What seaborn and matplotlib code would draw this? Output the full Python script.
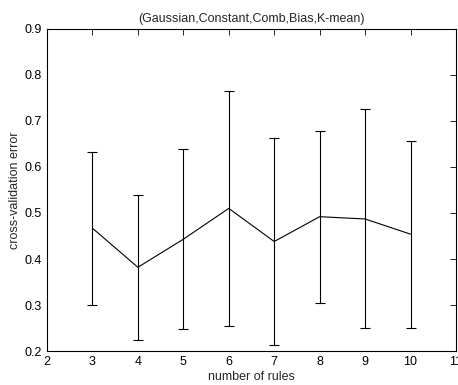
import numpy as np
import pandas as pd
import matplotlib
matplotlib.use("Agg")
import matplotlib.pyplot as plt
import seaborn as sns

# number of rules vs cross-validation error (mean +/- spread)
rules = [3, 4, 5, 6, 7, 8, 9, 10]
cv_error = [0.467, 0.382, 0.443, 0.510, 0.438, 0.492, 0.487, 0.454]
cv_spread = [0.166, 0.157, 0.196, 0.256, 0.224, 0.187, 0.238, 0.203]

sns.set_style("white")
plt.rcParams['font.family'] = ['Liberation Sans', 'DejaVu Sans']

df = pd.DataFrame({"rules": rules, "err": cv_error, "spread": cv_spread})

fig = plt.figure(figsize=(4.58, 3.85), dpi=100)
ax = fig.add_axes([0.1026, 0.0883, 0.893, 0.8364])

sns.lineplot(data=df, x="rules", y="err", color="black", linewidth=0.8, ax=ax)
ax.errorbar(df["rules"], df["err"], yerr=df["spread"], fmt="none",
            ecolor="black", elinewidth=0.8, capsize=3.5, capthick=0.8)

ax.set_xlim(2, 11)
ax.set_ylim(0.2, 0.9)
ax.set_xticks(range(2, 12))
ax.set_yticks(np.arange(0.2, 0.91, 0.1))
ax.set_yticklabels([f"{v:.1f}" for v in np.arange(0.2, 0.91, 0.1)])
ax.tick_params(direction="in", length=4, width=0.6, labelsize=9,
               top=True, right=True, colors="black")
for s in ax.spines.values():
    s.set_linewidth(0.8)
    s.set_color("black")

ax.set_title("(Gaussian,Constant,Comb,Bias,K-mean)", fontsize=9, pad=5)
ax.set_xlabel("number of rules", fontsize=9, labelpad=2)
ax.set_ylabel("cross-validation error", fontsize=9, labelpad=3)

fig.savefig("out.png", dpi=100)
